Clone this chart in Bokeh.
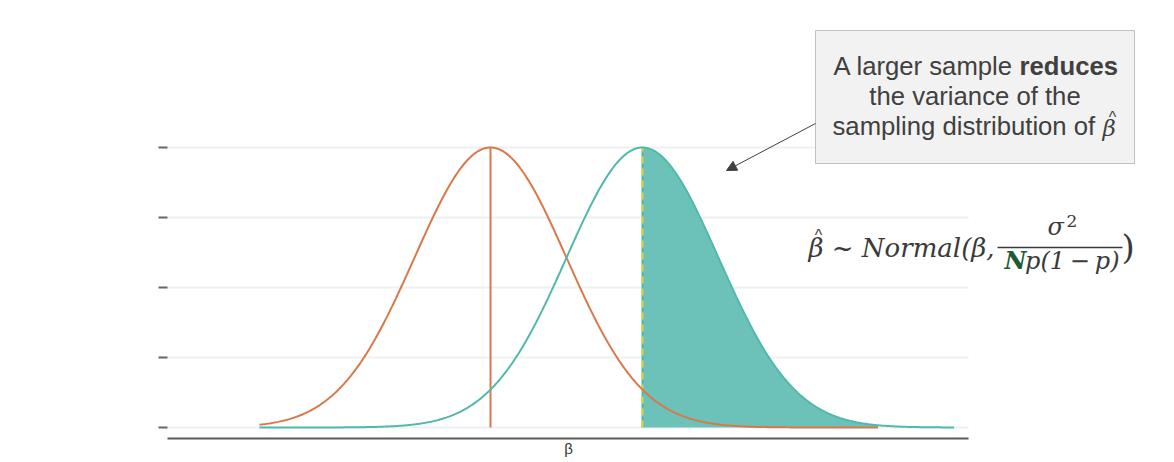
import numpy as np
from bokeh.plotting import figure
from bokeh.models import Label, Arrow, NormalHead, BoxAnnotation, Range1d
from bokeh.embed import file_html
from bokeh.resources import INLINE

# ---------------- data ----------------
means = [0.0, 2.0]            # orange: true beta ; teal: shifted sampling distribution
sigma = 1.0
curve_start = [-3.04, -3.04]
curve_end = [5.1, 6.1]
shade_from_to = [2.0, 5.1]
y_ticks = [0.0, 0.25, 0.5, 0.75, 1.0]
axis_extent = [-4.25, 6.29]
x_label = "β"
box_lines = ["A larger sample", "reduces", "the variance of the", "sampling distribution of", "β"]

ORANGE = "#d9784a"
TEAL = "#52b8aa"
TEAL_FILL = "#6cc2b9"
YELLOW = "#e2d33a"
GREY = "#404040"

W, H = 1174, 462


def density(x, mu):
    return np.exp(-0.5 * ((x - mu) / sigma) ** 2)


# ---------------- layout helpers (canvas pixel -> data) ----------------
def dx(px):
    return (px - 490) / 76.0


def dy(py):
    return (427 - py) / 280.0


def base(py, fs):
    # place an alphabetic baseline at canvas row py for a font of size fs
    return dy(py - 0.32 * fs)


p = figure(width=W, height=H, output_backend="svg", toolbar_location=None,
           x_range=Range1d(dx(0), dx(W)), y_range=Range1d(dy(H), dy(0)),
           min_border_left=0, min_border_right=0, min_border_top=0, min_border_bottom=0)
p.outline_line_color = None
p.background_fill_color = "white"
p.border_fill_color = "white"
p.axis.visible = False
p.grid.visible = False

# horizontal grid lines, tick marks and x axis line
n = len(y_ticks)
p.segment(x0=[axis_extent[0]] * n, y0=y_ticks, x1=[axis_extent[1]] * n, y1=y_ticks,
          line_color="#eef1f1", line_width=2)
p.segment(x0=[dx(158)] * n, y0=y_ticks, x1=[axis_extent[0]] * n, y1=y_ticks,
          line_color="#666666", line_width=2)
p.segment(x0=[axis_extent[0]], y0=[dy(438)], x1=[axis_extent[1]], y1=[dy(438)],
          line_color="#5a5a5a", line_width=2)

# shaded area under teal curve
xf = np.linspace(shade_from_to[0], shade_from_to[1], 300)
p.varea(x=xf, y1=0, y2=density(xf, means[1]), fill_color=TEAL_FILL, fill_alpha=1)

# vertical lines at the means
p.segment(x0=[means[1]], y0=[0], x1=[means[1]], y1=[1], line_color=TEAL, line_width=2)
p.segment(x0=[means[1]], y0=[0], x1=[means[1]], y1=[1], line_color=YELLOW, line_width=2, line_dash="7 5")
p.segment(x0=[means[0]], y0=[0], x1=[means[0]], y1=[1], line_color=ORANGE, line_width=2)

# curves
xo = np.linspace(curve_start[0], curve_end[0], 500)
p.line(xo, density(xo, means[0]), line_color=ORANGE, line_width=2)
xt = np.linspace(curve_start[1], curve_end[1], 500)
p.line(xt, density(xt, means[1]), line_color=TEAL, line_width=2)

# x axis label
p.add_layout(Label(x=dx(568), y=dy(448), text=x_label, text_align="center", text_baseline="middle",
                   text_font="Liberation Sans", text_font_size="15px", text_color="#333333"))

# annotation box
p.add_layout(BoxAnnotation(left=dx(815), right=dx(1134), top=dy(30), bottom=dy(163),
                           fill_color="#f2f2f2", fill_alpha=1, line_color=GREY, line_width=1))

FS = 25.7
common = dict(text_font="Liberation Sans", text_font_size=f"{FS}px", text_color=GREY, text_baseline="alphabetic")
p.add_layout(Label(x=dx(1013), y=base(74, FS), text=box_lines[0], text_align="right", **common))
p.add_layout(Label(x=dx(1019), y=base(74, FS), text=box_lines[1], text_align="left", text_font_style="bold", **common))
p.add_layout(Label(x=dx(974.5), y=base(104, FS), text=box_lines[2], text_align="center", **common))
p.add_layout(Label(x=dx(832), y=base(134, FS), text=box_lines[3], text_align="left", **common))
p.add_layout(Label(x=dx(1102), y=base(135, 23), text=box_lines[4], text_align="left", text_font="DejaVu Serif",
                   text_font_style="italic", text_font_size="23px", text_color=GREY, text_baseline="alphabetic"))
hat = dict(text="^", text_align="center", text_font="Liberation Sans", text_font_size="16px",
           text_baseline="alphabetic")
p.add_layout(Label(x=dx(1112), y=base(122, 16), text_color=GREY, **hat))

# arrow from box
p.add_layout(Arrow(x_start=dx(815), y_start=dy(123), x_end=dx(726), y_end=dy(170),
                   line_color=GREY, line_width=1,
                   end=NormalHead(size=10, fill_color=GREY, line_color=GREY)))

# formula
FC = "#3a3a3a"
FF = 26
serif = dict(text_font="DejaVu Serif", text_font_style="italic", text_color=FC, text_baseline="alphabetic")
p.add_layout(Label(x=dx(808), y=base(256, FF), text="β ~ Normal(β,", text_align="left",
                   text_font_size=f"{FF}px", **serif))
p.add_layout(Label(x=dx(818), y=base(240, 16), text_color=FC, **hat))
p.add_layout(Label(x=dx(1047), y=base(234, 24), text="σ", text_align="left", text_font_size="24px", **serif))
p.add_layout(Label(x=dx(1066), y=base(226, 17), text="2", text_align="left", text_font="DejaVu Serif",
                   text_font_size="17px", text_color=FC, text_baseline="alphabetic"))
p.add_layout(Arrow(x_start=dx(997), y_start=dy(247), x_end=dx(1122), y_end=dy(247),
                   line_color=FC, line_width=1.5, start=None, end=None))
p.add_layout(Label(x=dx(1004), y=base(268, 24), text="N", text_align="left", text_font="DejaVu Serif",
                   text_font_style="bold italic", text_font_size="24px", text_color="#1d5a3a",
                   text_baseline="alphabetic"))
p.add_layout(Label(x=dx(1119), y=base(268, 24), text="p(1\u2009−\u2009p)", text_align="right",
                   text_font_size="24px", **serif))
p.add_layout(Label(x=dx(1121), y=base(257, 34), text=")", text_align="left", text_font="DejaVu Serif",
                   text_font_size="34px", text_color=FC, text_baseline="alphabetic"))

open("out.html", "w").write(file_html(p, INLINE))
